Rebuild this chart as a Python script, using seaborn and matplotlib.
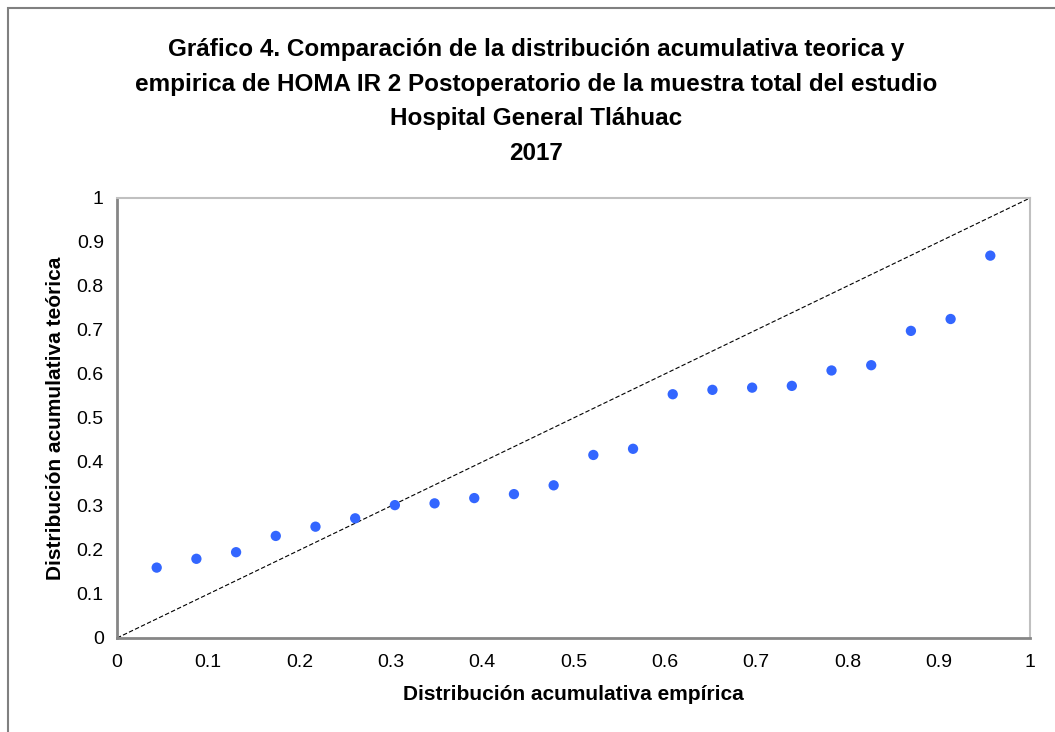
import matplotlib
matplotlib.use("Agg")
import matplotlib.pyplot as plt
import seaborn as sns
import pandas as pd
from matplotlib.patches import Rectangle

empirica = [1/23, 2/23, 3/23, 4/23, 5/23, 6/23, 7/23, 8/23, 9/23, 10/23, 11/23,
            12/23, 13/23, 14/23, 15/23, 16/23, 17/23, 18/23, 19/23, 20/23, 21/23, 22/23]
teorica = [0.160, 0.180, 0.195, 0.232, 0.253, 0.272, 0.302, 0.306, 0.318, 0.327, 0.347,
           0.416, 0.430, 0.554, 0.564, 0.569, 0.573, 0.608, 0.620, 0.698, 0.725, 0.869]
diag = [0, 1]
ticks = [0, 0.1, 0.2, 0.3, 0.4, 0.5, 0.6, 0.7, 0.8, 0.9, 1]
tick_labels = ["0", "0.1", "0.2", "0.3", "0.4", "0.5", "0.6", "0.7", "0.8", "0.9", "1"]

titulo = ("Gráfico 4. Comparación de la distribución acumulativa teorica y\n"
          "empirica de HOMA IR 2 Postoperatorio de la muestra total del estudio\n"
          "Hospital General Tláhuac\n2017")

df = pd.DataFrame({"empirica": empirica, "teorica": teorica})

sns.set_style("white")
plt.rcParams["font.family"] = ["Liberation Sans", "DejaVu Sans"]
plt.rcParams["text.color"] = "black"

fig = plt.figure(figsize=(10.55, 7.32), dpi=100)
ax = fig.add_axes([117/1055, 1 - 638/732, 913/1055, 440/732])

# outer chart frame (cropped on right/bottom)
fig.patches.append(Rectangle((8/1055, -0.1), 1.2, 1 - 8/732 + 0.1,
                             transform=fig.transFigure, fill=False,
                             edgecolor="#808080", linewidth=1.5))

ax.plot(diag, diag, color="black", linestyle=(0, (4, 2)), linewidth=0.8, zorder=2)
sns.scatterplot(data=df, x="empirica", y="teorica", ax=ax, color="#3366ff",
                s=55, edgecolor="none", zorder=3, legend=False)

ax.set_xlim(0, 1)
ax.set_ylim(0, 1)
ax.set_xticks(ticks)
ax.set_xticklabels(tick_labels)
ax.set_yticks(ticks)
ax.set_yticklabels(tick_labels)
ax.tick_params(axis="both", direction="inout", length=9, width=1.5, color="#868686",
               labelsize=14, labelcolor="black")
ax.tick_params(axis="x", pad=7)
ax.tick_params(axis="y", pad=5)

for side in ["top", "right"]:
    ax.spines[side].set_color("#c0c0c0")
    ax.spines[side].set_linewidth(1.5)
for side in ["left", "bottom"]:
    ax.spines[side].set_color("#868686")
    ax.spines[side].set_linewidth(2)

ax.set_xlabel("Distribución acumulativa empírica", fontsize=15, fontweight="bold",
              color="black", labelpad=10)
ax.set_ylabel("Distribución acumulativa teórica", fontsize=15, fontweight="bold",
              color="black", labelpad=8)

fig.text(536/1055, 1 - 38/732, titulo, ha="center", va="top", fontsize=17.5,
         fontweight="bold", color="black", linespacing=1.65)

fig.savefig("out.png", dpi=100)
